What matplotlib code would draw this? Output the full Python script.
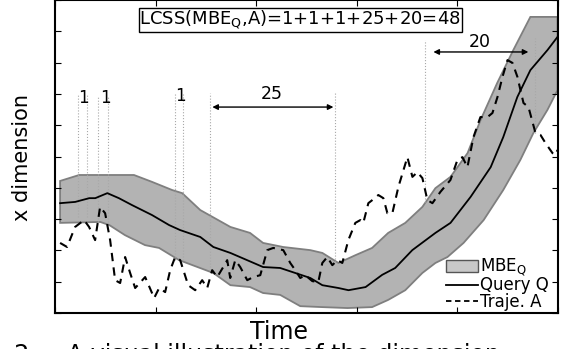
import numpy as np
import matplotlib
matplotlib.use("Agg")
import matplotlib.pyplot as plt
from matplotlib.patches import Patch
from matplotlib.lines import Line2D

# query Q (solid)
q_t = [1.0, 4.0, 6.8, 8.0, 10.4, 12.7, 15.3, 19.3, 22.7, 24.9, 28.9, 31.5, 34.9, 41.4, 44.8,
       50.8, 53.2, 56.4, 58.4, 61.8, 65.1, 67.7, 71.1, 75.7, 78.7, 82.7, 86.7, 89.2, 92.0,
       94.6, 98.0, 100.0]
q_y = [3.51, 3.55, 3.67, 3.67, 3.83, 3.67, 3.45, 3.13, 2.81, 2.65, 2.43, 2.11, 1.92, 1.47, 1.44,
       1.12, 0.89, 0.80, 0.73, 0.83, 1.22, 1.44, 2.01, 2.56, 2.88, 3.71, 4.66, 5.62, 6.90,
       7.76, 8.40, 8.82]

# MBE_Q envelope
up_t = [1.0, 2.8, 4.8, 15.7, 19.3, 23.3, 25.3, 28.9, 34.9, 38.8, 41.4, 45.4, 50.8, 53.2, 56.4,
        59.8, 63.1, 66.3, 69.7, 73.1, 75.7, 78.7, 82.1, 84.7, 88.0, 91.2, 94.6, 100.0]
up_y = [4.22, 4.31, 4.41, 4.41, 4.19, 3.93, 3.83, 3.29, 2.75, 2.56, 2.24, 2.11, 2.01, 1.92, 1.60,
        1.85, 2.08, 2.56, 2.88, 3.39, 3.99, 4.35, 5.11, 6.17, 7.35, 8.40, 9.46, 9.46]
lo_t = [1.0, 9.0, 10.8, 13.9, 17.9, 20.7, 24.7, 31.5, 34.9, 38.8, 41.4, 44.8, 48.8, 53.2, 58.2,
        63.1, 66.3, 69.7, 73.1, 75.7, 78.1, 81.3, 85.3, 89.2, 92.6, 95.2, 98.0, 100.0]
lo_y = [2.88, 2.91, 2.81, 2.49, 2.17, 2.08, 1.69, 1.28, 0.89, 0.83, 0.64, 0.58, 0.22, 0.19, 0.16,
        0.19, 0.42, 0.73, 1.28, 1.60, 1.79, 2.24, 2.97, 3.93, 4.89, 5.75, 6.49, 7.12]

# trajectory A (dashed)
a_t = [1.00, 2.39, 3.98, 5.78, 6.77, 7.97, 8.96, 9.96, 10.96, 11.95, 12.95, 13.94, 14.94, 15.94,
       17.93, 19.72, 20.72, 21.91, 22.91, 23.90, 24.90, 26.49, 27.89, 29.28, 30.28, 31.27, 32.27,
       33.47, 34.26, 34.86, 35.86, 36.85, 38.25, 39.44, 40.84, 42.23, 43.43, 45.42, 46.81, 47.81,
       48.80, 49.80, 51.20, 52.39, 53.19, 54.18, 55.18, 56.18, 57.17, 58.37, 59.76, 60.76, 61.35,
       62.35, 63.15, 64.34, 65.34, 66.14, 67.13, 68.33, 70.12, 71.12, 72.11, 73.11, 74.10, 75.10,
       76.69, 78.69, 80.08, 81.08, 82.07, 83.27, 84.66, 86.06, 87.05, 88.05, 89.04, 90.04, 91.04,
       92.03, 92.63, 93.23, 94.22, 95.62, 96.61, 97.61, 99.00, 99.60, 100.0]
a_y = [2.24, 2.11, 2.75, 2.97, 2.75, 2.33, 3.39, 3.19, 2.33, 1.05, 0.96, 1.79, 1.28, 0.80,
       1.15, 0.48, 0.80, 0.67, 1.37, 1.79, 1.69, 0.89, 0.73, 1.05, 0.80, 1.37, 1.15,
       1.47, 1.69, 1.12, 1.69, 1.47, 1.05, 1.15, 1.21, 2.01, 2.08, 2.01, 1.60, 1.37,
       1.12, 1.21, 1.02, 0.99, 1.60, 1.79, 1.53, 1.69, 1.60, 2.33, 2.88, 2.97, 2.88,
       3.51, 3.61, 3.77, 3.67, 3.19, 3.19, 4.03, 4.98, 4.35, 4.50, 4.31, 3.61, 3.51,
       3.87, 4.25, 4.89, 4.98, 4.66, 5.62, 6.26, 6.26, 6.39, 6.90, 7.54, 8.08, 7.99,
       7.54, 7.12, 6.71, 6.58, 5.75, 5.69, 5.43, 5.11, 5.05, 5.21]

# matched-point markers (vertical dotted guides)
guide_t = [4.6, 6.4, 8.6, 10.6, 23.9, 25.5, 30.9, 55.8, 73.7, 95.6]
guide_top = [7.0, 7.0, 6.9, 6.9, 7.03, 7.03, 7.03, 7.06, 8.72, 8.79]
guide_bot = [3.07, 3.07, 2.91, 2.91, 1.69, 1.69, 1.37, 1.63, 3.55, 5.75]

ones_t = [5.6, 10.0, 24.9]
ones_y = [6.87, 6.87, 6.93]
runs = ["25", "20"]
run_t = [(31.3, 55.4), (75.3, 94.2)]
run_y = [6.58, 8.34]
run_label_t = [43.2, 84.5]
run_label_y = [7.0, 8.66]

fig = plt.figure(figsize=(5.62, 3.49), dpi=100)
ax = fig.add_axes([0.098, 0.103, 0.894, 0.897])

ax.fill(np.concatenate([up_t, lo_t[::-1]]), np.concatenate([up_y, lo_y[::-1]]),
        facecolor='#b3b3b3', edgecolor='#7f7f7f', linewidth=1.3, zorder=1)
ax.plot(q_t, q_y, color='black', linewidth=1.3, zorder=3)
ax.plot(a_t, a_y, color='black', linewidth=1.5, linestyle=(0, (4, 3)), zorder=3)

for t, top, bot in zip(guide_t, guide_top, guide_bot):
    ax.plot([t, t], [bot, top], color='#a8a8a8', linewidth=0.8, linestyle=':', zorder=2)

for t, y in zip(ones_t, ones_y):
    ax.text(t, y, "1", fontsize=12, ha='center', va='center')

for lab, (t0, t1), y, lt, ly in zip(runs, run_t, run_y, run_label_t, run_label_y):
    ax.annotate('', xy=(t1, y), xytext=(t0, y),
                arrowprops=dict(arrowstyle='<|-|>', color='black', lw=1,
                                mutation_scale=8, shrinkA=0, shrinkB=0))
    ax.text(lt, ly, lab, fontsize=12.5, ha='center', va='center')

ax.text(48.8, 9.36, r'LCSS(MBE$_\mathrm{Q}$,A)=1+1+1+25+20=48', fontsize=13,
        ha='center', va='center',
        bbox=dict(boxstyle='square,pad=0.05', facecolor='white', edgecolor='black', linewidth=1))

ax.set_xlim(0, 100)
ax.set_ylim(0, 10)
ax.set_xticks(np.arange(0, 101, 20))
ax.set_yticks(np.arange(0, 11, 1))
ax.tick_params(direction='in', length=4, top=True, right=True,
               labelbottom=False, labelleft=False)
for s in ax.spines.values():
    s.set_linewidth(1.5)

handles = [Patch(facecolor='#c8c8c8', edgecolor='#555555', linewidth=1),
           Line2D([], [], color='black', linewidth=1.3),
           Line2D([], [], color='black', linewidth=1.3, linestyle=(0, (3, 2)))]
ax.legend(handles, [r'MBE$_\mathrm{Q}$', 'Query Q', 'Traje. A'], loc='lower right',
          bbox_to_anchor=(1.005, -0.03), frameon=False, fontsize=12,
          handlelength=1.9, handletextpad=0.1, labelspacing=-0.1, borderpad=0.2)

fig.text(0.497, 0.048, "Time", fontsize=17, ha='center', va='center')
fig.text(0.04, 0.55, "x dimension", fontsize=15, ha='center', va='center', rotation=90)
fig.text(-0.06, -0.018, "Fig. 2:    A visual illustration of the dimension", fontsize=17,
         ha='left', va='center')

fig.savefig("out.png", dpi=100)
